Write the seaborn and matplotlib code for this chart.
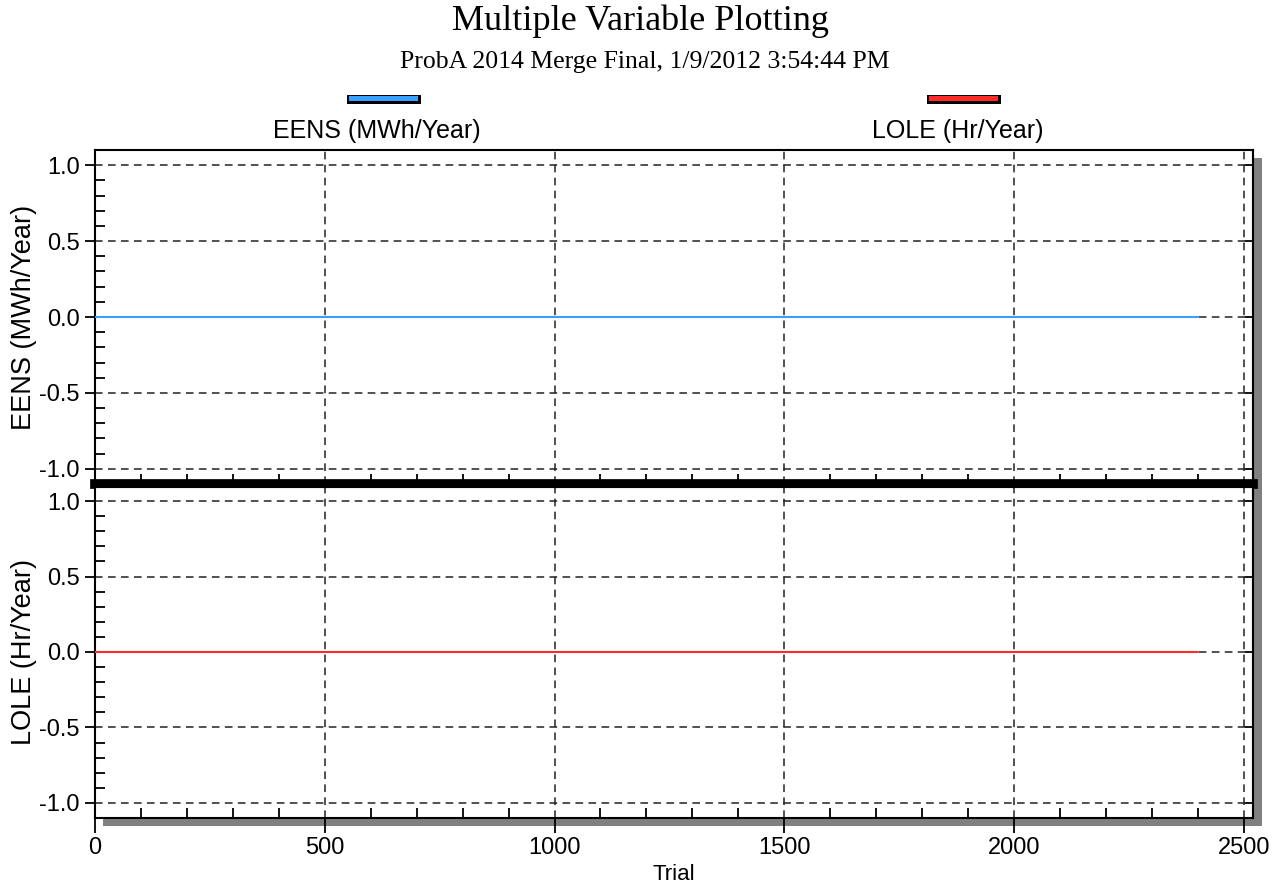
import matplotlib
matplotlib.use("Agg")
import matplotlib.pyplot as plt
from matplotlib.patches import Rectangle
from matplotlib.ticker import MultipleLocator, FormatStrFormatter
import seaborn as sns

# Trial range and simulated indices (both series stay flat at zero)
trial_points = [0, 2400]
eens_values = [0.0, 0.0]
lole_values = [0.0, 0.0]
panel_labels = ["EENS (MWh/Year)", "LOLE (Hr/Year)"]
panel_colors = ["#3aa0ff", "#ff2a2a"]

sns.set_theme(style="white")
plt.rcParams["font.family"] = ["Liberation Sans", "DejaVu Sans"]
plt.rcParams.update({"text.color": "black", "axes.labelcolor": "black",
                     "xtick.color": "black", "ytick.color": "black"})

W, H = 1275, 892
fig = plt.figure(figsize=(W / 100, H / 100), dpi=100)


def fx(px):
    return px / W


def fy(py):
    return 1 - py / H


left, right = 95, 1253
ax_top = fig.add_axes([fx(left), fy(484), fx(right - left), fy(150) - fy(484)])
ax_bot = fig.add_axes([fx(left), fy(818), fx(right - left), fy(486) - fy(818)])

# drop shadow behind both panels
fig.add_artist(Rectangle((fx(103), fy(826)), fx(1262 - 103), fy(158) - fy(826),
                         transform=fig.transFigure, facecolor="#808080",
                         edgecolor="none", zorder=-1))

series = [eens_values, lole_values]
for i, ax in enumerate([ax_top, ax_bot]):
    ax.set_facecolor("white")
    sns.lineplot(x=trial_points, y=series[i], ax=ax, color=panel_colors[i],
                 linewidth=1.5, zorder=3)
    ax.set_xlim(0, 2520)
    ax.set_ylim(-1.1, 1.1)
    ax.xaxis.set_major_locator(MultipleLocator(500))
    ax.xaxis.set_minor_locator(MultipleLocator(100))
    ax.yaxis.set_major_locator(MultipleLocator(0.5))
    ax.yaxis.set_minor_locator(MultipleLocator(0.1))
    ax.yaxis.set_major_formatter(FormatStrFormatter("%.1f"))
    ax.grid(True, which="major", color="#222222", linewidth=1.1,
            linestyle=(0, (5, 3.5)))
    ax.set_axisbelow(True)
    for s in ax.spines.values():
        s.set_color("black")
        s.set_linewidth(1.5)
        s.set_visible(True)
    ax.tick_params(axis="y", which="major", direction="out", length=7, width=1.3,
                   color="black", labelsize=17, pad=4, left=True)
    ax.tick_params(axis="y", which="minor", direction="in", length=7, width=1.3,
                   color="black", left=True)
    ax.tick_params(axis="x", which="minor", direction="in", length=7, width=1.3,
                   color="black", bottom=True)
    ax.set_ylabel(panel_labels[i], fontsize=19.5, color="black")
    ax.yaxis.set_label_coords(-0.05, 0.5)
    sec = ax.secondary_yaxis("right")
    sec.yaxis.set_major_locator(MultipleLocator(0.5))
    sec.tick_params(direction="in", length=6, width=1.3, labelright=False)
    sec.spines["right"].set_linewidth(1.5)

ax_top.tick_params(axis="x", which="major", length=0, labelbottom=False)
ax_top.spines["bottom"].set_linewidth(7)
ax_bot.spines["top"].set_linewidth(3)
ax_bot.tick_params(axis="x", which="major", direction="out", length=11, width=1.3,
                   color="black", labelsize=17, pad=3, bottom=True)
ax_bot.set_xlabel("Trial", fontsize=16, color="black", labelpad=3)

# titles
fig.text(fx(640), fy(21), "Multiple Variable Plotting", ha="center", va="center",
         fontsize=26, family=["Liberation Serif", "DejaVu Serif"])
fig.text(fx(645), fy(62), "ProbA 2014 Merge Final, 1/9/2012 3:54:44 PM",
         ha="center", va="center", fontsize=18.5,
         family=["Liberation Serif", "DejaVu Serif"])

# legend with marker above label
legend_pos = [(384, 377), (964, 958)]
for (bx, tx), lab, col in zip(legend_pos, panel_labels, panel_colors):
    fig.add_artist(Rectangle((fx(bx - 37), fy(104)), fx(74), fy(95) - fy(104),
                             transform=fig.transFigure, facecolor="black",
                             edgecolor="none"))
    fig.add_artist(Rectangle((fx(bx - 35), fy(101)), fx(69), fy(96) - fy(101),
                             transform=fig.transFigure, facecolor=col,
                             edgecolor="none"))
    fig.text(fx(tx), fy(131), lab, ha="center", va="center", fontsize=18)

fig.savefig("out.png", dpi=100)
